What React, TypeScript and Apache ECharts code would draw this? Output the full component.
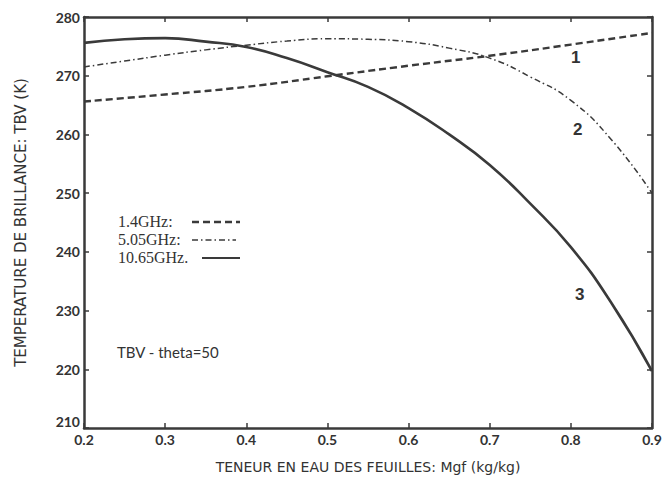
import React, { useEffect, useRef } from "react";
import * as echarts from "echarts";

// 1.4 GHz curve (read at 0.1 steps)
const x14 = [0.2, 0.3, 0.4, 0.5, 0.6, 0.7, 0.8, 0.9];
const tb14 = [265.6, 266.8, 268.1, 269.9, 271.7, 273.4, 275.3, 277.3];
// 5.05 GHz and 10.65 GHz curves (read at 0.05 steps)
const xFine = [0.2, 0.25, 0.3, 0.35, 0.4, 0.45, 0.5, 0.55, 0.6, 0.65, 0.7, 0.75, 0.8, 0.85, 0.9];
const tb505 = [271.5, 272.5, 273.5, 274.4, 275.2, 275.9, 276.3, 276.2, 275.8, 274.7, 273.0, 269.8, 265.8, 259.1, 250.0];
const tb1065 = [275.6, 276.2, 276.4, 275.8, 274.9, 273.0, 270.6, 268.1, 264.5, 260.0, 254.8, 248.2, 240.8, 231.3, 219.7];
const seriesNames = ["1.4GHz:", "5.05GHz:", "10.65GHz."];
const curveLabels = ["1", "2", "3"];
const noteText = "TBV - theta=50";

const INK = "#3a3a3a";
const DASH_14 = [7, 4];
const DASH_505 = [6, 3, 1.5, 3];

export default function App() {
  const ref = useRef<HTMLDivElement>(null);
  useEffect(() => {
    if (!ref.current) return;
    const chart = echarts.init(ref.current, null, { renderer: "svg" });
    const pair = (xs: number[], ys: number[]) => xs.map((x, i) => [x, ys[i]]);
    const axisFont = { fontFamily: "Lato", fontWeight: "bold" as const, fontSize: 14, color: "#333" };
    const frameAxis = {
      axisLine: { lineStyle: { color: INK, width: 2.5 } },
      axisTick: { inside: true, length: 5, lineStyle: { color: INK, width: 1.5 } },
      splitLine: { show: false },
    };
    const legendRows = [
      { y: 222, lineX: [192, 240], dash: DASH_14, w: 2.4 },
      { y: 240, lineX: [192, 236], dash: DASH_505, w: 1.5 },
      { y: 258, lineX: [202, 240], dash: null, w: 2.2 },
    ];
    const legendGraphics: any[] = [];
    legendRows.forEach((r, i) => {
      legendGraphics.push({
        type: "text",
        left: 118,
        top: r.y - 9,
        style: { text: seriesNames[i], font: "16px 'Liberation Serif'", fill: "#333" },
      });
      legendGraphics.push({
        type: "line",
        shape: { x1: r.lineX[0], y1: r.y, x2: r.lineX[1], y2: r.y },
        style: { stroke: INK, lineWidth: r.w, lineDash: r.dash || undefined },
      });
    });
    chart.setOption({
      animation: false,
      backgroundColor: "#fff",
      grid: { left: 84, right: 19, top: 17, bottom: 63 },
      xAxis: [
        {
          type: "value",
          min: 0.2,
          max: 0.9,
          interval: 0.1,
          position: "bottom",
          name: "TENEUR EN EAU DES FEUILLES: Mgf (kg/kg)",
          nameLocation: "middle",
          nameGap: 32,
          nameTextStyle: { fontFamily: "DejaVu Sans", fontSize: 14, color: "#333" },
          axisLabel: { ...axisFont, margin: 4, formatter: (v: number) => v.toFixed(1) },
          ...frameAxis,
        },
        {
          type: "value",
          min: 0.2,
          max: 0.9,
          interval: 0.1,
          position: "top",
          axisLabel: { show: false },
          ...frameAxis,
        },
      ],
      yAxis: [
        {
          type: "value",
          min: 210,
          max: 280,
          interval: 10,
          position: "left",
          name: "TEMPERATURE DE BRILLANCE: TBV (K)",
          nameLocation: "middle",
          nameGap: 56,
          nameTextStyle: { fontFamily: "DejaVu Sans", fontSize: 15, color: "#333" },
          axisLabel: { ...axisFont, margin: 4, verticalAlignMinLabel: "bottom" },
          ...frameAxis,
        },
        {
          type: "value",
          min: 210,
          max: 280,
          interval: 10,
          position: "right",
          axisLabel: { show: false },
          ...frameAxis,
        },
      ],
      series: [
        {
          name: seriesNames[0],
          type: "line",
          smooth: true,
          symbol: "none",
          data: pair(x14, tb14),
          lineStyle: { color: INK, width: 2.4, type: DASH_14 },
          itemStyle: { color: INK },
        },
        {
          name: seriesNames[1],
          type: "line",
          smooth: true,
          symbol: "none",
          data: pair(xFine, tb505),
          lineStyle: { color: INK, width: 1.5, type: DASH_505 },
          itemStyle: { color: INK },
        },
        {
          name: seriesNames[2],
          type: "line",
          smooth: true,
          symbol: "none",
          data: pair(xFine, tb1065),
          lineStyle: { color: INK, width: 2.6 },
          itemStyle: { color: INK },
        },
      ],
      graphic: [
        ...legendGraphics,
        { type: "text", left: 571, top: 49, style: { text: curveLabels[0], font: "bold 17px 'Liberation Sans'", fill: "#333" } },
        { type: "text", left: 573, top: 121, style: { text: curveLabels[1], font: "bold 17px 'Liberation Sans'", fill: "#333" } },
        { type: "text", left: 575, top: 286, style: { text: curveLabels[2], font: "bold 17px 'Liberation Sans'", fill: "#333" } },
        { type: "text", left: 117, top: 344, style: { text: noteText, font: "15px Lato", fill: "#333" } },
      ],
    });
    return () => chart.dispose();
  }, []);
  return <div ref={ref} style={{ width: 671, height: 491, position: "absolute", left: 0, top: 0 }} />;
}
